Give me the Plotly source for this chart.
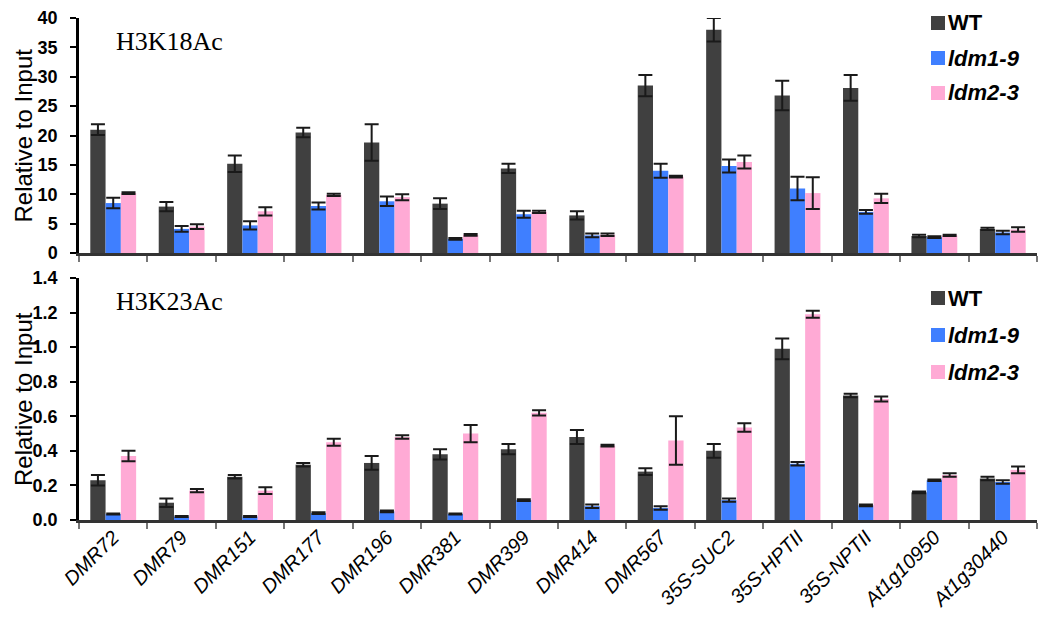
import plotly.graph_objects as go

categories = ["DMR72", "DMR79", "DMR151", "DMR177", "DMR196", "DMR381", "DMR399",
              "DMR414", "DMR567", "35S-SUC2", "35S-HPTII", "35S-NPTII", "At1g10950", "At1g30440"]
series_names = ["WT", "ldm1-9", "ldm2-3"]
legend_labels = ["<b>WT</b>", "<b><i>ldm1-9</i></b>", "<b><i>ldm2-3</i></b>"]

# H3K18Ac panel
k18_wt = [21.0, 7.9, 15.2, 20.5, 18.8, 8.4, 14.4, 6.4, 28.5, 38.0, 26.8, 28.1, 2.9, 4.1]
k18_wt_err = [0.9, 0.8, 1.4, 0.8, 3.1, 0.9, 0.8, 0.7, 1.8, 2.0, 2.5, 2.2, 0.2, 0.2]
k18_ldm1 = [8.5, 4.1, 4.7, 8.0, 8.8, 2.4, 6.6, 3.0, 14.0, 14.8, 11.0, 7.0, 2.7, 3.5]
k18_ldm1_err = [0.9, 0.5, 0.7, 0.6, 0.8, 0.15, 0.6, 0.3, 1.2, 1.1, 2.0, 0.3, 0.15, 0.3]
k18_ldm2 = [10.2, 4.5, 7.1, 9.9, 9.5, 3.1, 7.0, 3.1, 13.0, 15.5, 10.2, 9.3, 3.0, 4.0]
k18_ldm2_err = [0.15, 0.4, 0.7, 0.2, 0.5, 0.15, 0.2, 0.2, 0.15, 1.1, 2.7, 0.8, 0.1, 0.4]

# H3K23Ac panel
k23_wt = [0.23, 0.10, 0.25, 0.32, 0.33, 0.38, 0.41, 0.48, 0.28, 0.40, 0.99, 0.72, 0.16, 0.24]
k23_wt_err = [0.03, 0.025, 0.01, 0.01, 0.04, 0.03, 0.03, 0.04, 0.02, 0.04, 0.06, 0.01, 0.005, 0.01]
k23_ldm1 = [0.035, 0.02, 0.02, 0.04, 0.05, 0.035, 0.115, 0.08, 0.07, 0.115, 0.325, 0.085, 0.23, 0.22]
k23_ldm1_err = [0.003, 0.003, 0.003, 0.005, 0.005, 0.003, 0.005, 0.01, 0.01, 0.01, 0.01, 0.005, 0.005, 0.01]
k23_ldm2 = [0.37, 0.17, 0.17, 0.45, 0.48, 0.50, 0.62, 0.43, 0.46, 0.535, 1.19, 0.70, 0.26, 0.29]
k23_ldm2_err = [0.03, 0.01, 0.02, 0.02, 0.01, 0.05, 0.015, 0.005, 0.14, 0.025, 0.02, 0.015, 0.01, 0.02]

y_ticks_top = [0, 5, 10, 15, 20, 25, 30, 35, 40]
y_ticks_bottom = [0.0, 0.2, 0.4, 0.6, 0.8, 1.0, 1.2, 1.4]
y_ticktext_bottom = ["0.0", "0.2", "0.4", "0.6", "0.8", "1.0", "1.2", "1.4"]

colors = ["#404040", "#3f7fff", "#ffaad5"]

top_vals = [k18_wt, k18_ldm1, k18_ldm2]
top_errs = [k18_wt_err, k18_ldm1_err, k18_ldm2_err]
bot_vals = [k23_wt, k23_ldm1, k23_ldm2]
bot_errs = [k23_wt_err, k23_ldm1_err, k23_ldm2_err]

# --- figure geometry (the page adds an 8px body margin around the figure) ---
BODY = 8
FIG_W, FIG_H = 1050 - 2 * BODY, 620 - 2 * BODY
ML, MR, MT, MB = 71, 5, 10, 92
PLOT_W = FIG_W - ML - MR
PLOT_H = FIG_H - MT - MB


def px2x(px_abs):
    return (px_abs - BODY - ML) / PLOT_W


def py2y(py_abs):
    return (FIG_H - MB - (py_abs - BODY)) / PLOT_H


fig = go.Figure()

for i in range(3):
    fig.add_trace(go.Bar(
        x=categories, y=top_vals[i], name=series_names[i],
        marker=dict(color=colors[i], line=dict(width=0)),
        error_y=dict(type="data", array=top_errs[i], color="#1a1a1a", thickness=2, width=7),
        xaxis="x", yaxis="y", showlegend=False,
    ))
for i in range(3):
    fig.add_trace(go.Bar(
        x=categories, y=bot_vals[i], name=series_names[i],
        marker=dict(color=colors[i], line=dict(width=0)),
        error_y=dict(type="data", array=bot_errs[i], color="#1a1a1a", thickness=2, width=7),
        xaxis="x2", yaxis="y2", showlegend=False,
    ))

axis_font = dict(family="Liberation Sans, Arial", size=18, color="black", weight="bold")
title_font = dict(family="Liberation Sans, Arial", size=24, color="black")
legend_font = dict(family="Liberation Sans, Arial", size=22, color="black")
panel_font = dict(family="Liberation Serif, Times New Roman", size=26, color="black")

common_x = dict(
    type="category", categoryorder="array", categoryarray=categories,
    range=[-0.5, 13.5], showline=True, linecolor="#333333", linewidth=2.5,
    ticks="outside", tickson="boundaries", ticklen=6, tickwidth=2, tickcolor="#777777",
    showgrid=False, zeroline=False, automargin=False,
)
common_y = dict(
    showline=True, linecolor="black", linewidth=2.5,
    ticks="outside", ticklen=6, tickwidth=2, tickcolor="black",
    tickfont=axis_font, ticklabelstandoff=9, showgrid=False, zeroline=False,
    automargin=False, ticklabeloverflow="allow",
)

top_dom = [py2y(253), 1.0]
bot_dom = [0.0, py2y(278)]

annotations = [
    dict(text="H3K18Ac", x=px2x(114), y=py2y(42), xref="paper", yref="paper",
         xanchor="left", yanchor="middle", showarrow=False, font=panel_font),
    dict(text="H3K23Ac", x=px2x(114), y=py2y(302), xref="paper", yref="paper",
         xanchor="left", yanchor="middle", showarrow=False, font=panel_font),
    dict(text="Relative to Input", x=px2x(23), y=sum(top_dom) / 2, xref="paper", yref="paper",
         xanchor="center", yanchor="middle", textangle=-90, showarrow=False, font=title_font),
    dict(text="Relative to Input", x=px2x(23), y=sum(bot_dom) / 2, xref="paper", yref="paper",
         xanchor="center", yanchor="middle", textangle=-90, showarrow=False, font=title_font),
]
shapes = []

# manual legends (one per panel)
legend_rows = [[23, 58, 93], [298, 335, 372]]
for rows in legend_rows:
    for i, cy in enumerate(rows):
        shapes.append(dict(type="rect", xref="paper", yref="paper",
                           x0=px2x(931), x1=px2x(945), y0=py2y(cy + 7), y1=py2y(cy - 7),
                           fillcolor=colors[i], line=dict(width=0)))
        annotations.append(dict(text=legend_labels[i], x=px2x(946), y=py2y(cy),
                                xref="paper", yref="paper", xanchor="left", yanchor="middle",
                                showarrow=False, font=legend_font))

fig.update_layout(
    width=FIG_W, height=FIG_H,
    margin=dict(l=ML, r=MR, t=MT, b=MB),
    paper_bgcolor="white", plot_bgcolor="white",
    barmode="group", bargap=0.33, bargroupgap=0,
    showlegend=False,
    xaxis=dict(**common_x, domain=[0, 1], anchor="y", showticklabels=False),
    xaxis2=dict(**common_x, domain=[0, 1], anchor="y2", showticklabels=True,
                tickangle=-45, ticklabelstandoff=-5,
                tickfont=dict(family="Liberation Sans, Arial", size=20, color="black", style="italic")),
    yaxis=dict(**common_y, domain=top_dom, anchor="x", range=[0, 40], tickvals=y_ticks_top),
    yaxis2=dict(**common_y, domain=bot_dom, anchor="x2", range=[0, 1.4],
                tickvals=y_ticks_bottom, ticktext=y_ticktext_bottom),
    annotations=annotations,
    shapes=shapes,
)

fig.write_html("out.html")
